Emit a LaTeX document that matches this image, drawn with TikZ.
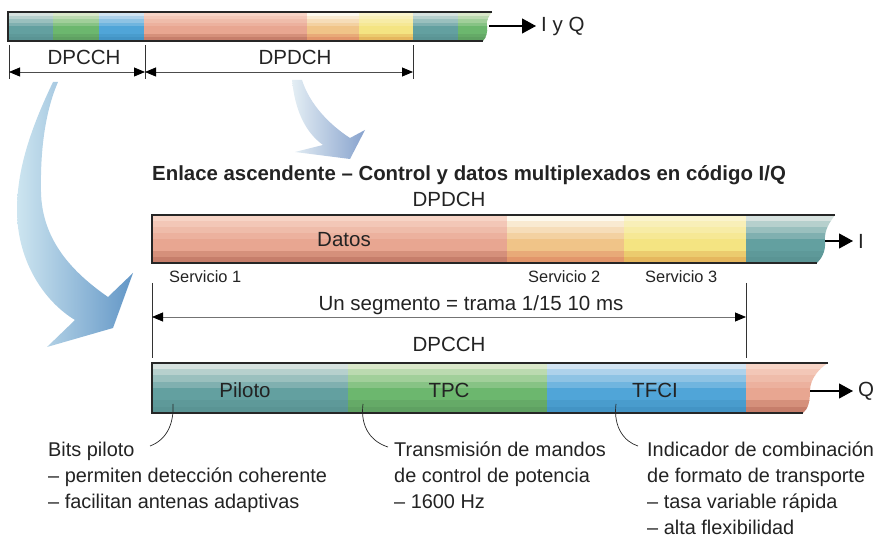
\documentclass[tikz,border=0pt]{standalone}
\usepackage{fontspec}
\setmainfont{Liberation Sans}
\usetikzlibrary{arrows.meta,calc}
\definecolor{redT}{RGB}{247,212,198}\definecolor{redM}{RGB}{232,166,145}\definecolor{redB}{RGB}{190,116,97}
\definecolor{oraT}{RGB}{253,249,238}\definecolor{oraM}{RGB}{240,196,136}\definecolor{oraB}{RGB}{222,138,100}
\definecolor{yelT}{RGB}{250,244,205}\definecolor{yelM}{RGB}{244,228,130}\definecolor{yelB}{RGB}{225,172,85}
\definecolor{teaT}{RGB}{214,226,223}\definecolor{teaM}{RGB}{99,160,160}\definecolor{teaB}{RGB}{88,145,145}
\definecolor{greT}{RGB}{218,232,202}\definecolor{greM}{RGB}{108,183,110}\definecolor{greB}{RGB}{92,155,95}
\definecolor{bluT}{RGB}{210,228,242}\definecolor{bluM}{RGB}{80,165,216}\definecolor{bluB}{RGB}{64,144,192}
\definecolor{txt}{RGB}{35,35,35}
\definecolor{arrL}{RGB}{205,229,240}\definecolor{arrR}{RGB}{98,150,198}
\definecolor{arr2L}{RGB}{228,238,244}\definecolor{arr2R}{RGB}{135,162,205}
\newcommand{\stripeseg}[7]{%
  \foreach \i/\pa/\pb in {0/100/0,1/72/0,2/48/0,3/25/0,4/0/0,5/0/0,6/0/45,7/0/80}{%
    \pgfmathsetmacro\ya{#3+(#4-#3)*\i/8}%
    \pgfmathsetmacro\yb{#3+(#4-#3)*(\i+1)/8}%
    \colorlet{stA}{#5!\pa!#6}\colorlet{stB}{#7!\pb!stA}%
    \fill[stB] (#1,\ya) rectangle (#2,\yb+0.4);
  }}
\tikzset{
  barline/.style={draw=black!85, line width=1.2pt},
  lbl/.style={text=txt, inner sep=0pt, font=\fontsize{20.5}{24}\selectfont},
  smlbl/.style={text=txt, inner sep=0pt, font=\fontsize{16.4}{19}\selectfont},
  dimline/.style={draw=black!70, line width=0.8pt, {Triangle[length=11pt,width=9pt,color=black]}-{Triangle[length=11pt,width=9pt,color=black]}},
  tick/.style={draw=black!80, line width=0.8pt},
  outarrow/.style={draw=black, line width=1.1pt, -{Triangle[length=14pt,width=15pt]}, shorten >=5pt},
  leader/.style={draw=black!85, line width=0.7pt},
  note/.style={text=txt, inner sep=0pt, anchor=base west, font=\fontsize{19.9}{26}\selectfont}
}
\begin{document}
\begin{tikzpicture}[x=1pt,y=-1pt]
\useasboundingbox (0,0) rectangle (876,537);
% ---------- top bar ----------
\begin{scope}
  \clip (8,12) -- (492,12) .. controls (489,16) and (486,20) .. (487,26) .. controls (488,32) and (486,38) .. (483,41) -- (8,41) -- cycle;
  \stripeseg{8}{53}{12}{41}{teaT}{teaM}{teaB}
  \stripeseg{53}{99}{12}{41}{greT}{greM}{greB}
  \stripeseg{99}{144}{12}{41}{bluT}{bluM}{bluB}
  \stripeseg{144}{307}{12}{41}{redT}{redM}{redB}
  \stripeseg{307}{359}{12}{41}{oraT}{oraM}{oraB}
  \stripeseg{359}{413}{12}{41}{yelT}{yelM}{yelB}
  \stripeseg{413}{458}{12}{41}{teaT}{teaM}{teaB}
  \stripeseg{458}{496}{12}{41}{greT}{greM}{greB}
\end{scope}
\draw[barline] (492,12) -- (8,12) -- (8,41) -- (483,41);
\coordinate (topend) at (489,26);
\node[lbl, anchor=west] (IQ) at (541,26) {I y Q};
\draw[outarrow] (topend) -- (IQ.west);
% top dimension
\coordinate (t1a) at (9,45); \coordinate (t1b) at (9,79);
\coordinate (t2a) at (145,45); \coordinate (t2b) at (145,79);
\coordinate (t3a) at (413,45); \coordinate (t3b) at (413,79);
\draw[tick] (t1a) -- (t1b); \draw[tick] (t2a) -- (t2b); \draw[tick] (t3a) -- (t3b);
\coordinate (d1) at (9,72); \coordinate (d2) at (145,72); \coordinate (d3) at (413,72);
\draw[dimline] (d1) -- (d2);
\draw[dimline] (d2) -- (d3);
\node[lbl] (dpcchTop) at (84,57) {DPCCH};
\node[lbl] (dpdchTop) at (295,57) {DPDCH};
% ---------- big arrows ----------
\shade[left color=arrL, right color=arrR]
  (53,82) .. controls (30,130) and (17,170) .. (17,210) .. controls (17,262) and (45,302) .. (75,320)
  -- (47,347) -- (113,328) -- (133,273) -- (108,297)
  .. controls (72,272) and (42,240) .. (41,192) .. controls (40,140) and (48,105) .. (58,82) -- cycle;
\shade[left color=arr2L, right color=arr2R]
  (292,80) .. controls (295,110) and (305,132) .. (323,145) -- (295,152) -- (350,159) -- (365,130) -- (350,138)
  .. controls (330,125) and (310,105) .. (302,80) -- cycle;
% ---------- title ----------
\node[text=txt, inner sep=0pt, anchor=west, font=\bfseries\fontsize{20.4}{24}\selectfont] (title) at (152,175) {Enlace ascendente – Control y datos multiplexados en código I/Q};
\node[lbl] (dpdchLbl) at (449,199) {DPDCH};
% ---------- DPDCH bar ----------
\begin{scope}
  \clip (152,215) -- (835,215) .. controls (830,222) and (824,230) .. (825,241) .. controls (826,252) and (821,259) .. (817,263) -- (152,263) -- cycle;
  \stripeseg{152}{507}{215}{263}{redT}{redM}{redB}
  \stripeseg{507}{624}{215}{263}{oraT}{oraM}{oraB}
  \stripeseg{624}{746}{215}{263}{yelT}{yelM}{yelB}
  \stripeseg{746}{840}{215}{263}{teaT}{teaM}{teaB}
\end{scope}
\draw[barline] (835,215) -- (152,215) -- (152,263) -- (817,263);
\node[lbl] (datos) at (344,240) {Datos};
\coordinate (iend) at (825,241);
\node[lbl, anchor=west] (Iout) at (858,241) {I};
\draw[outarrow] (iend) -- (Iout.west);
\node[smlbl, anchor=base west] (s1) at (169,283) {Servicio 1};
\node[smlbl, anchor=base west] (s2) at (528,283) {Servicio 2};
\node[smlbl, anchor=base west] (s3) at (645,283) {Servicio 3};
% segment dimension
\coordinate (v1a) at (152,283); \coordinate (v1b) at (152,358);
\coordinate (v2a) at (746,283); \coordinate (v2b) at (746,358);
\draw[tick] (v1a) -- (v1b); \draw[tick] (v2a) -- (v2b);
\coordinate (sa) at (152,317); \coordinate (sb) at (746,317);
\draw[dimline, draw=black!55] (sa) -- (sb);
\node[lbl] (seg) at (471,305) {Un segmento = trama 1/15 10 ms};
\node[lbl] (dpcchLbl) at (449,344) {DPCCH};
% ---------- DPCCH bar ----------
\begin{scope}
  \clip (152,363) -- (828,363) .. controls (820,368) and (810,378) .. (810,391) .. controls (810,402) and (808,409) .. (803,413) -- (152,413) -- cycle;
  \stripeseg{152}{348}{363}{413}{teaT}{teaM}{teaB}
  \stripeseg{348}{547}{363}{413}{greT}{greM}{greB}
  \stripeseg{547}{746}{363}{413}{bluT}{bluM}{bluB}
  \stripeseg{746}{832}{363}{413}{redT}{redM}{redB}
\end{scope}
\draw[barline] (828,363) -- (152,363) -- (152,413) -- (803,413);
\node[lbl] (piloto) at (245,390) {Piloto};
\node[lbl] (tpc) at (449,390) {TPC};
\node[lbl] (tfci) at (655,390) {TFCI};
\coordinate (qend) at (810,391);
\node[lbl, anchor=west] (Qout) at (858,391) {Q};
\draw[outarrow] (qend) -- (Qout.west);
% ---------- notes ----------
\node[note] (bits) at (48,456) {\begin{tabular}[t]{@{}l@{}}Bits piloto\\– permiten detección coherente\\– facilitan antenas adaptivas\end{tabular}};
\node[note] (trans) at (394,456) {\begin{tabular}[t]{@{}l@{}}Transmisión de mandos\\de control de potencia\\– 1600 Hz\end{tabular}};
\node[note] (indic) at (647,456) {\begin{tabular}[t]{@{}l@{}}Indicador de combinación\\de formato de transporte\\– tasa variable rápida\\– alta flexibilidad\end{tabular}};
\coordinate (p1) at (173,404); \coordinate (e1) at (150,446);
\coordinate (p2) at (363,404); \coordinate (e2) at (388,447);
\coordinate (p3) at (616,404); \coordinate (e3) at (638,446);
\draw[leader] (p1) .. controls (174,425) and (166,440) .. (e1);
\draw[leader] (p2) .. controls (360,428) and (372,442) .. (e2);
\draw[leader] (p3) .. controls (613,428) and (625,442) .. (e3);
\end{tikzpicture}
\end{document}
